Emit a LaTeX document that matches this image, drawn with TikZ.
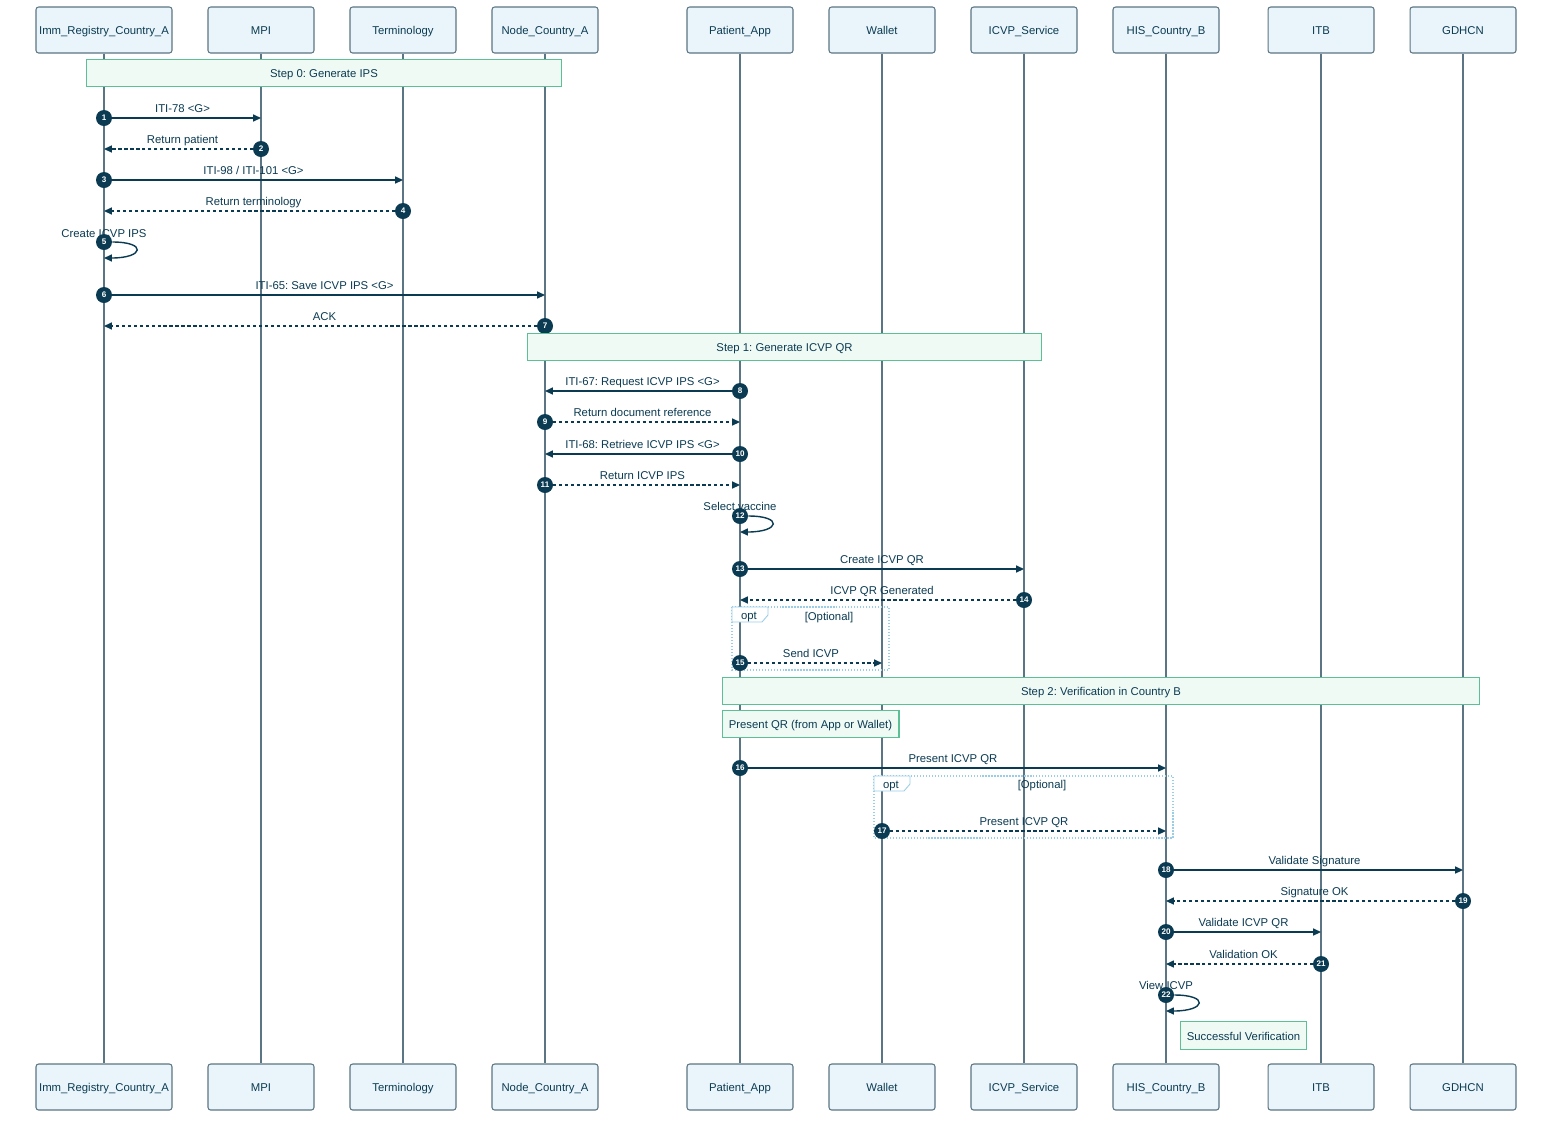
\documentclass[tikz,border=0pt]{standalone}
\usepackage{fontspec}
\setmainfont{Liberation Sans}
\usetikzlibrary{positioning}
\usetikzlibrary{arrows.meta}

\definecolor{actfill}{HTML}{EAF5FB}
\definecolor{actline}{HTML}{5C7584}
\definecolor{msgcol}{HTML}{0B3B52}
\definecolor{notefill}{HTML}{F0FAF5}
\definecolor{noteline}{HTML}{5CBF96}
\definecolor{optline}{HTML}{9ACDE6}

\tikzset{
	actor/.style={rectangle, rounded corners=1.5pt, draw=actline, fill=actfill, line width=0.6pt, minimum width=2.12cm, minimum height=0.92cm, inner xsep=1pt, text=msgcol, text height=0.72em, text depth=0.2em},
	wideactor/.style={actor, minimum width=2.72cm},
	life/.style={draw=actline, line width=0.7pt},
	msg/.style={draw=msgcol, line width=0.8pt, shorten <=0.16cm, -{Triangle[length=4.5pt,width=4pt]}},
	reply/.style={msg, dash pattern=on 1.8pt off 1.6pt},
	selfmsg/.style={msg, shorten <=0pt},
	num/.style={circle, fill=msgcol, text=white, inner sep=0pt, minimum size=0.32cm, font=\fontsize{4.6}{5}\selectfont\bfseries},
	lbl/.style={text=msgcol, inner sep=1pt, text height=0.72em, text depth=0.2em},
	note/.style={rectangle, draw=noteline, fill=notefill, line width=0.6pt, text=msgcol, minimum height=0.52cm, text height=0.72em, text depth=0.2em},
	optbox/.style={draw=optline, densely dotted, line width=0.7pt},
	opttab/.style={draw=optline, fill=white, line width=0.5pt},
}

\begin{document}
\frenchspacing
\begin{tikzpicture}[x=0.02cm, y=-0.02cm, font=\fontsize{6.45}{7.7}\selectfont]
	\useasboundingbox[fill=white] (0,0) rectangle (1568,1130);

	% participants
	\node[wideactor] (imm) at (104,30) {Imm\_Registry\_Country\_A};
	\node[actor] (mpi) at (261,30) {MPI};
	\node[actor] (term) at (403,30) {Terminology};
	\node[actor] (nodea) at (545,30) {Node\_Country\_A};
	\node[actor] (app) at (740,30) {Patient\_App};
	\node[actor] (wallet) at (882,30) {Wallet};
	\node[actor] (icvp) at (1024,30) {ICVP\_Service};
	\node[actor] (his) at (1166,30) {HIS\_Country\_B};
	\node[actor] (itb) at (1321,30) {ITB};
	\node[actor] (gdhcn) at (1463,30) {GDHCN};

	\node[wideactor] (immb) at (104,1087) {Imm\_Registry\_Country\_A};
	\node[actor] (mpib) at (261,1087) {MPI};
	\node[actor] (termb) at (403,1087) {Terminology};
	\node[actor] (nodeab) at (545,1087) {Node\_Country\_A};
	\node[actor] (appb) at (740,1087) {Patient\_App};
	\node[actor] (walletb) at (882,1087) {Wallet};
	\node[actor] (icvpb) at (1024,1087) {ICVP\_Service};
	\node[actor] (hisb) at (1166,1087) {HIS\_Country\_B};
	\node[actor] (itbb) at (1321,1087) {ITB};
	\node[actor] (gdhcnb) at (1463,1087) {GDHCN};

	% lifelines
	\draw[life] (imm) -- (immb);
	\draw[life] (mpi) -- (mpib);
	\draw[life] (term) -- (termb);
	\draw[life] (nodea) -- (nodeab);
	\draw[life] (app) -- (appb);
	\draw[life] (wallet) -- (walletb);
	\draw[life] (icvp) -- (icvpb);
	\draw[life] (his) -- (hisb);
	\draw[life] (itb) -- (itbb);
	\draw[life] (gdhcn) -- (gdhcnb);

	% step 0
	\node[note, minimum width=9.52cm] (step0) at (324,73) {Step 0: Generate IPS};

	\node[num] (n1) at (104,118) {1};
	\draw[msg] (n1.center) -- (n1 -| mpi) node[lbl, midway, above=0pt] {ITI-78 <G>};
	\node[num] (n2) at (261,149) {2};
	\draw[reply] (n2.center) -- (n2 -| imm) node[lbl, midway, above=0pt] {Return patient};
	\node[num] (n3) at (104,180) {3};
	\draw[msg] (n3.center) -- (n3 -| term) node[lbl, midway, above=0pt] {ITI-98 / ITI-101 <G>};
	\node[num] (n4) at (403,211) {4};
	\draw[reply] (n4.center) -- (n4 -| imm) node[lbl, midway, above=0pt] {Return terminology};
	\node[lbl] (t5) at (104,233) {Create ICVP IPS};
	\node[num] (n5) at (104,242) {5};
	\coordinate (l5) at (104,258);
	\draw[selfmsg] (n5.east) .. controls +(35,0) and +(40,0) .. (l5);
	\node[num] (n6) at (104,295) {6};
	\draw[msg] (n6.center) -- (n6 -| nodea) node[lbl, midway, above=0pt] {ITI-65: Save ICVP IPS <G>};
	\node[num] (n7) at (545,326) {7};
	\draw[reply] (n7.center) -- (n7 -| imm) node[lbl, midway, above=0pt] {ACK};

	% step 1
	\node[note, minimum width=10.3cm] (step1) at (784.5,347) {Step 1: Generate ICVP QR};

	\node[num] (n8) at (740,391) {8};
	\draw[msg] (n8.center) -- (n8 -| nodea) node[lbl, midway, above=0pt] {ITI-67: Request ICVP IPS <G>};
	\node[num] (n9) at (545,422) {9};
	\draw[reply] (n9.center) -- (n9 -| app) node[lbl, midway, above=0pt] {Return document reference};
	\node[num] (n10) at (740,454) {10};
	\draw[msg] (n10.center) -- (n10 -| nodea) node[lbl, midway, above=0pt] {ITI-68: Retrieve ICVP IPS <G>};
	\node[num] (n11) at (545,485) {11};
	\draw[reply] (n11.center) -- (n11 -| app) node[lbl, midway, above=0pt] {Return ICVP IPS};
	\node[lbl] (t12) at (740,506) {Select vaccine};
	\node[num] (n12) at (740,516) {12};
	\coordinate (l12) at (740,532);
	\draw[selfmsg] (n12.east) .. controls +(35,0) and +(40,0) .. (l12);
	\node[num] (n13) at (740,569) {13};
	\draw[msg] (n13.center) -- (n13 -| icvp) node[lbl, midway, above=0pt] {Create ICVP QR};
	\node[num] (n14) at (1024,600) {14};
	\draw[reply] (n14.center) -- (n14 -| app) node[lbl, midway, above=0pt] {ICVP QR Generated};

	\draw[optbox] (732,607) rectangle (889,670);
	\draw[opttab] (732,607) -- (768,607) -- (768,615) -- (762,622) -- (732,622) -- cycle;
	\node[lbl] (opt1) at (749,615) {opt};
	\node[lbl] (cond1) at (829,616) {[Optional]};
	\node[num] (n15) at (740,663) {15};
	\draw[reply] (n15.center) -- (n15 -| wallet) node[lbl, midway, above=0pt] {Send ICVP};

	% step 2
	\node[note, minimum width=15.16cm] (step2) at (1101,691) {Step 2: Verification in Country B};
	\node[note, minimum width=3.54cm] (present) at (810.5,724) {Present QR (from App or Wallet)};

	\node[num] (n16) at (740,768) {16};
	\draw[msg] (n16.center) -- (n16 -| his) node[lbl, midway, above=0pt] {Present ICVP QR};

	\draw[optbox] (874,776) rectangle (1173,838);
	\draw[opttab] (874,776) -- (910,776) -- (910,784) -- (904,791) -- (874,791) -- cycle;
	\node[lbl] (opt2) at (891,784) {opt};
	\node[lbl] (cond2) at (1042,784) {[Optional]};
	\node[num] (n17) at (882,831) {17};
	\draw[reply] (n17.center) -- (n17 -| his) node[lbl, midway, above=0pt] {Present ICVP QR};

	\node[num] (n18) at (1166,870) {18};
	\draw[msg] (n18.center) -- (n18 -| gdhcn) node[lbl, midway, above=0pt] {Validate Signature};
	\node[num] (n19) at (1463,901) {19};
	\draw[reply] (n19.center) -- (n19 -| his) node[lbl, midway, above=0pt] {Signature OK};
	\node[num] (n20) at (1166,932) {20};
	\draw[msg] (n20.center) -- (n20 -| itb) node[lbl, midway, above=0pt] {Validate ICVP QR};
	\node[num] (n21) at (1321,964) {21};
	\draw[reply] (n21.center) -- (n21 -| his) node[lbl, midway, above=0pt] {Validation OK};
	\node[lbl] (t22) at (1166,985) {View ICVP};
	\node[num] (n22) at (1166,995) {22};
	\coordinate (l22) at (1166,1011);
	\draw[selfmsg] (n22.east) .. controls +(35,0) and +(40,0) .. (l22);

	\node[note, minimum width=2.38cm, minimum height=0.54cm] (success) at (1243.5,1035.5) {Successful Verification};
\end{tikzpicture}
\end{document}
